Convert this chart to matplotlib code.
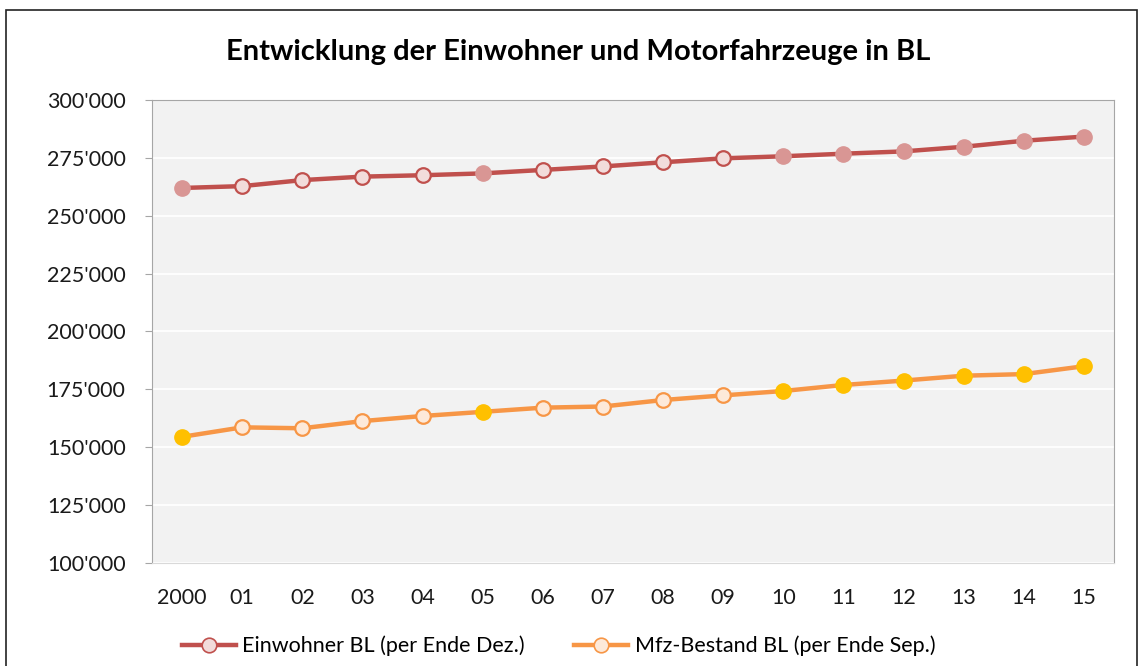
import matplotlib

matplotlib.use("Agg")

import matplotlib.pyplot as plt
from matplotlib.lines import Line2D
from matplotlib.patches import Rectangle
from matplotlib.ticker import FuncFormatter, MultipleLocator

plt.rcParams["font.family"] = ["Lato", "DejaVu Sans"]

# values
years = ["2000", "01", "02", "03", "04", "05", "06", "07",
         "08", "09", "10", "11", "12", "13", "14", "15"]
einwohner = [262000, 262800, 265400, 266900, 267500, 268300, 269800, 271300,
             273100, 274800, 275700, 276800, 277800, 279800, 282400, 284200]
mfz = [154500, 158600, 158200, 161300, 163500, 165300, 167100, 167600,
       170400, 172400, 174300, 176900, 178800, 180900, 181600, 185000]
# points drawn with a solid marker, the rest are hollow
filled = [0, 5, 10, 11, 12, 13, 14, 15]
hollow = [i for i in range(len(years)) if i not in filled]

title = "Entwicklung der Einwohner und Motorfahrzeuge in BL"
labels = ["Einwohner BL (per Ende Dez.)", "Mfz-Bestand BL (per Ende Sep.)"]

RED, RED_LIGHT, RED_FILL = "#c0504d", "#f2dcdb", "#d99694"
ORA, ORA_LIGHT, ORA_FILL = "#f79646", "#fde9d9", "#ffc000"

fig = plt.figure(figsize=(11.4, 6.66), dpi=100)
ax = fig.add_axes([152 / 1140, 1 - 563 / 666, 962 / 1140, 463 / 666])
ax.set_facecolor("#f2f2f2")

x = list(range(len(years)))
for vals, line_c, light, fill in ((einwohner, RED, RED_LIGHT, RED_FILL),
                                  (mfz, ORA, ORA_LIGHT, ORA_FILL)):
    ax.plot(x, vals, color=line_c, lw=3.2, marker="o", ms=10.5,
            mfc=light, mec=line_c, mew=1.6, markevery=hollow, zorder=3)
    ax.plot([x[i] for i in filled], [vals[i] for i in filled], ls="none",
            marker="o", ms=11, mfc=fill, mec=fill, mew=1.0, zorder=4)

ax.set_xlim(-0.5, len(years) - 0.5)
ax.set_ylim(100000, 300000)
ax.yaxis.set_major_locator(MultipleLocator(25000))
ax.yaxis.set_major_formatter(FuncFormatter(lambda v, p: f"{int(v):,}".replace(",", "'")))
ax.set_xticks(x)
ax.set_xticklabels(years)
ax.grid(axis="y", color="white", lw=1.3)
ax.set_axisbelow(True)

for side in ("top", "right", "left"):
    ax.spines[side].set_color("#a6a6a6")
ax.spines["bottom"].set_color("#d9d9d9")
ax.tick_params(axis="y", length=5, color="#a6a6a6", pad=14, labelsize=15.5,
               labelcolor="#1a1a1a")
ax.tick_params(axis="x", length=0, pad=18, labelsize=15.5, labelcolor="#1a1a1a")

fig.text(0.507, 1 - 52 / 666, title, ha="center", va="center",
         fontsize=21, fontweight="bold")

handles = [Line2D([], [], color=RED, lw=3.2, marker="o", ms=10.5, mfc=RED_LIGHT,
                  mec=RED, mew=1.2),
           Line2D([], [], color=ORA, lw=3.2, marker="o", ms=10.5, mfc=ORA_LIGHT,
                  mec=ORA, mew=1.2)]
fig.legend(handles, labels, loc="center", bbox_to_anchor=(0.49, 1 - 646 / 666),
           ncol=2, frameon=False, fontsize=15.5, handlelength=2.5,
           handletextpad=0.3, columnspacing=2.3)

# outer chart border
fig.patches.append(Rectangle((6 / 1140, -0.05), 1131 / 1140, 1.05 - 10 / 666,
                             transform=fig.transFigure, fill=False,
                             ec="#222222", lw=1.2))

fig.savefig("out.png", dpi=100)
